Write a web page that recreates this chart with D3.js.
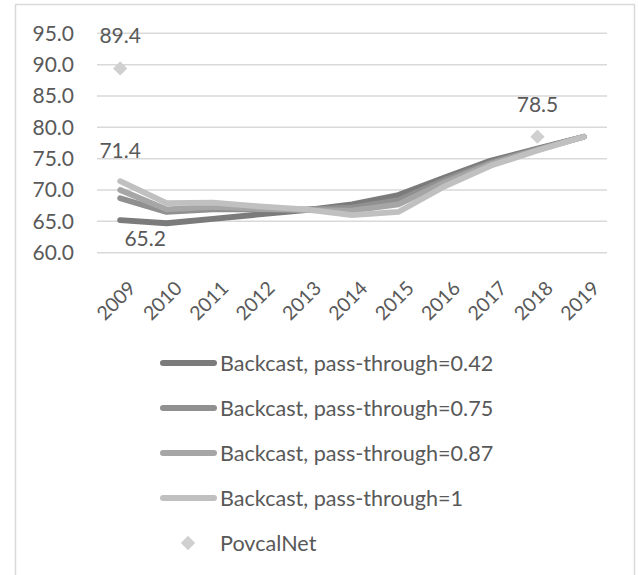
<!DOCTYPE html>
<html>
<head>
<meta charset="utf-8">
<script src="https://cdn.jsdelivr.net/npm/d3@7"></script>
<style>
  html, body { margin: 0; padding: 0; background: #fff; }
  svg text { font-family: Lato, "Open Sans", "Liberation Sans", sans-serif; fill: #595959; }
</style>
</head>
<body>
<svg id="chart" width="638" height="575"></svg>
<script>
// Years on the x axis
const years = ["2009","2010","2011","2012","2013","2014","2015","2016","2017","2018","2019"];
// Backcast series for each pass-through rate
const passThrough042 = [65.2, 64.7, 65.4, 66.1, 66.8, 67.7, 69.2, 72.0, 74.7, 76.6, 78.5];
const passThrough075 = [68.7, 66.5, 66.9, 66.9, 66.9, 67.2, 68.4, 71.6, 74.4, 76.5, 78.5];
const passThrough087 = [70.0, 66.9, 67.3, 67.0, 66.8, 66.7, 67.7, 71.2, 74.2, 76.4, 78.5];
const passThrough1   = [71.4, 67.9, 68.0, 67.4, 66.9, 66.0, 66.5, 70.6, 73.9, 76.3, 78.5];
// Survey observations
const povcalYears  = ["2009", "2018"];
const povcalValues = [89.4, 78.5];
// Y axis ticks
const yTicks = [60, 65, 70, 75, 80, 85, 90, 95];

const seriesNames = [
  "Backcast, pass-through=0.42",
  "Backcast, pass-through=0.75",
  "Backcast, pass-through=0.87",
  "Backcast, pass-through=1"
];
const seriesValues = [passThrough042, passThrough075, passThrough087, passThrough1];
const seriesColors = ["#7b7b7b", "#909090", "#a6a6a6", "#c0c0c0"];
const diamondColor = "#d0d0d0";

const svg = d3.select("#chart");

// outer chart frame
svg.append("rect")
  .attr("x", 15.5).attr("y", 4.5)
  .attr("width", 619).attr("height", 620)
  .attr("fill", "none").attr("stroke", "#d9d9d9").attr("stroke-width", 1.5);

const plot = { left: 97, right: 607, top: 33.3, bottom: 252.7 };

const x = d3.scaleBand().domain(years).range([plot.left, plot.right]);
const cx = d => x(d) + x.bandwidth() / 2;
const y = d3.scaleLinear().domain([60, 95]).range([plot.bottom, plot.top]);

// gridlines
svg.append("g").selectAll("line").data(yTicks).join("line")
  .attr("x1", plot.left).attr("x2", plot.right)
  .attr("y1", d => y(d)).attr("y2", d => y(d))
  .attr("stroke", "#d9d9d9").attr("stroke-width", 1.5);

// y axis labels
const yAxis = d3.axisLeft(y).tickValues(yTicks).tickFormat(d3.format(".1f")).tickSize(0).tickPadding(0);
svg.append("g")
  .attr("transform", `translate(${plot.left - 23},0)`)
  .call(yAxis)
  .call(g => g.select(".domain").remove())
  .call(g => g.selectAll("text").attr("font-size", 21).style("font-family", null));

// x axis labels, rotated
const xAxis = d3.axisBottom(x).tickSize(0).tickPadding(0);
svg.append("g")
  .attr("transform", `translate(0,${plot.bottom + 18})`)
  .call(xAxis)
  .call(g => g.select(".domain").remove())
  .call(g => g.selectAll("text")
    .attr("font-size", 19.5)
    .style("font-family", null)
    .attr("text-anchor", "end")
    .attr("dy", "0.35em")
    .attr("transform", "translate(12,14) rotate(-45)"));

// backcast lines
const line = d3.line().x((d, i) => cx(years[i])).y(d => y(d));
svg.append("g").selectAll("path").data(seriesValues).join("path")
  .attr("d", d => line(d))
  .attr("fill", "none")
  .attr("stroke", (d, i) => seriesColors[i])
  .attr("stroke-width", 5.8)
  .attr("stroke-linecap", "round")
  .attr("stroke-linejoin", "round");

// survey diamonds
const diamond = d3.symbol().type(d3.symbolDiamond2).size(130);
svg.append("g").selectAll("path").data(povcalValues).join("path")
  .attr("d", diamond)
  .attr("transform", (d, i) => `translate(${cx(povcalYears[i])},${y(d)})`)
  .attr("fill", diamondColor);

// data labels
const labels = [
  { year: "2009", value: povcalValues[0], dx: 0, dy: -33 },
  { year: "2018", value: povcalValues[1], dx: 0, dy: -32 },
  { year: "2009", value: passThrough1[0], dx: 0, dy: -31 },
  { year: "2009", value: passThrough042[0], dx: 25, dy: 19 }
];
svg.append("g").selectAll("text").data(labels).join("text")
  .attr("x", d => cx(d.year) + d.dx)
  .attr("y", d => y(d.value) + d.dy)
  .attr("dy", "0.35em")
  .attr("text-anchor", "middle")
  .attr("font-size", 21)
  .text(d => d3.format(".1f")(d.value));

// legend
const legendTop = 363, legendStep = 45;
const legend = svg.append("g");
seriesNames.forEach((name, i) => {
  const ly = legendTop + i * legendStep;
  legend.append("line")
    .attr("x1", 163).attr("x2", 214).attr("y1", ly).attr("y2", ly)
    .attr("stroke", seriesColors[i]).attr("stroke-width", 6).attr("stroke-linecap", "round");
  legend.append("text").attr("x", 220).attr("y", ly).attr("dy", "0.35em")
    .attr("font-size", 21.6).text(name);
});
const povY = legendTop + 4 * legendStep;
legend.append("path").attr("d", diamond).attr("transform", `translate(188,${povY})`).attr("fill", diamondColor);
legend.append("text").attr("x", 220).attr("y", povY).attr("dy", "0.35em").attr("font-size", 21.6).text("PovcalNet");
</script>
</body>
</html>
